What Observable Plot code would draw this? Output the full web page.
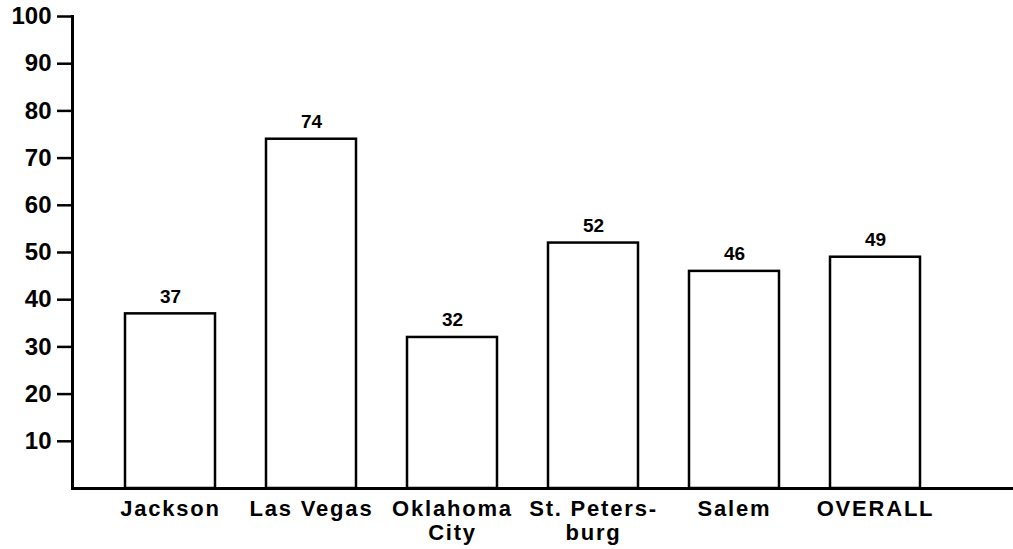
<!DOCTYPE html>
<html>
<head>
<meta charset="utf-8">
<script src="https://cdn.jsdelivr.net/npm/d3@7"></script>
<script src="https://cdn.jsdelivr.net/npm/@observablehq/plot@0.6"></script>
<style>
  html, body { margin: 0; padding: 0; background: #fff; }
  #chart svg { display: block; }
  g[aria-label="x-axis tick label"] text { letter-spacing: 1.8px; }
</style>
</head>
<body>
<div id="chart"></div>
<script>
const categories = ["Jackson", "Las Vegas", "Oklahoma\nCity", "St. Peters-\nburg", "Salem", "OVERALL"];
const values = [37, 74, 32, 52, 46, 49];
const yTicks = [10, 20, 30, 40, 50, 60, 70, 80, 90, 100];

const data = categories.map((c, i) => ({category: c, value: values[i]}));

const chart = Plot.plot({
  width: 1013,
  height: 549,
  marginLeft: 72,
  marginRight: 0,
  marginTop: 16,
  marginBottom: 61,
  style: {fontFamily: "'Liberation Sans', Arial, Helvetica, sans-serif", color: "black", background: "white"},
  x: {domain: categories, paddingInner: 0.36, paddingOuter: 0.4956, align: 0.363, label: null},
  y: {domain: [0, 100], label: null},
  marks: [
    Plot.barY(data, {x: "category", y: "value", fill: "white", stroke: "black", strokeWidth: 2.5}),
    Plot.text(data, {x: "category", y: "value", text: d => String(d.value), dy: -11, lineAnchor: "bottom", fontSize: 19, fontWeight: "bold", fill: "black"}),
    Plot.ruleY([0], {stroke: "black", strokeWidth: 3}),
    Plot.axisY({ticks: yTicks, tickSize: 15, tickPadding: 6, fontSize: 24, fontWeight: "bold", strokeWidth: 2.5, label: null}),
    Plot.axisX({tickSize: 0, tickPadding: 10, fontSize: 22, fontWeight: "bold", lineHeight: 1.1, label: null}),
    Plot.frame({anchor: "left", stroke: "black", strokeWidth: 3})
  ]
});
document.getElementById("chart").appendChild(chart);
</script>
</body>
</html>
